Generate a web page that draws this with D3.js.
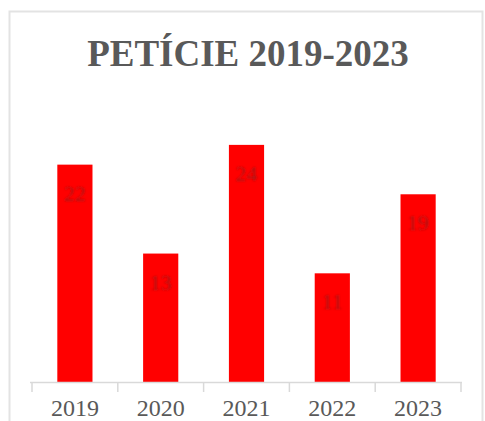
<!DOCTYPE html>
<html>
<head>
<meta charset="utf-8">
<script src="https://cdn.jsdelivr.net/npm/d3@7"></script>
<style>
  body { margin: 0; background: #fff; }
  svg { display: block; }
</style>
</head>
<body>
<svg id="chart" width="485" height="421"></svg>
<script>
// data
const years = ["2019", "2020", "2021", "2022", "2023"];
const petitions = [22, 13, 24, 11, 19];
const title = "PETÍCIE 2019-2023";

const width = 485;
const height = 421;
const svg = d3.select("#chart");

// outer frame
svg.append("rect")
  .attr("x", 9.5).attr("y", 11.5)
  .attr("width", 473).attr("height", 420)
  .attr("fill", "none")
  .attr("stroke", "#e3e3e3")
  .attr("stroke-width", 2);

// title
svg.append("text")
  .attr("x", 248).attr("y", 66)
  .attr("text-anchor", "middle")
  .attr("font-family", "Liberation Serif, Times New Roman, serif")
  .attr("font-weight", "bold")
  .attr("font-size", 37)
  .attr("fill", "#595959")
  .text(title);

// scales
const x = d3.scaleBand()
  .domain(years)
  .range([32, 461])
  .paddingInner(0.59)
  .paddingOuter(0.295);

const y = d3.scaleLinear()
  .domain([0, 25])
  .range([382, 135]);

// soft label blur like the picture
const defs = svg.append("defs");
defs.append("filter").attr("id", "soft")
  .append("feGaussianBlur").attr("stdDeviation", 1);

// bars
svg.selectAll("rect.bar")
  .data(petitions)
  .enter()
  .append("rect")
  .attr("class", "bar")
  .attr("x", (d, i) => x(years[i]))
  .attr("y", d => y(d))
  .attr("width", x.bandwidth())
  .attr("height", d => y(0) - y(d))
  .attr("fill", "#ff0000");

// value labels (dark red, low contrast)
svg.selectAll("text.val")
  .data(petitions)
  .enter()
  .append("text")
  .attr("class", "val")
  .attr("x", (d, i) => x(years[i]) + x.bandwidth() / 2)
  .attr("y", d => y(d) + 36)
  .attr("text-anchor", "middle")
  .attr("font-family", "Liberation Serif, Times New Roman, serif")
  .attr("font-size", 22)
  .attr("fill", "#a81818")
  .attr("filter", "url(#soft)")
  .text(d => d);

// x axis: base line, boundary ticks, year labels
const axis = svg.append("g");
axis.append("line")
  .attr("x1", 30).attr("x2", 462)
  .attr("y1", 382.5).attr("y2", 382.5)
  .attr("stroke", "#d9d9d9")
  .attr("stroke-width", 1.5);

const bounds = d3.range(years.length + 1).map(i => x.range()[0] + i * x.step());
axis.selectAll("line.tick")
  .data(bounds)
  .enter()
  .append("line")
  .attr("class", "tick")
  .attr("x1", d => d).attr("x2", d => d)
  .attr("y1", 382).attr("y2", 392)
  .attr("stroke", "#d9d9d9")
  .attr("stroke-width", 1.5);

axis.selectAll("text.year")
  .data(years)
  .enter()
  .append("text")
  .attr("class", "year")
  .attr("x", d => x(d) + x.bandwidth() / 2)
  .attr("y", 416)
  .attr("text-anchor", "middle")
  .attr("font-family", "Liberation Serif, Times New Roman, serif")
  .attr("font-size", 24)
  .attr("fill", "#595959")
  .text(d => d);
</script>
</body>
</html>
